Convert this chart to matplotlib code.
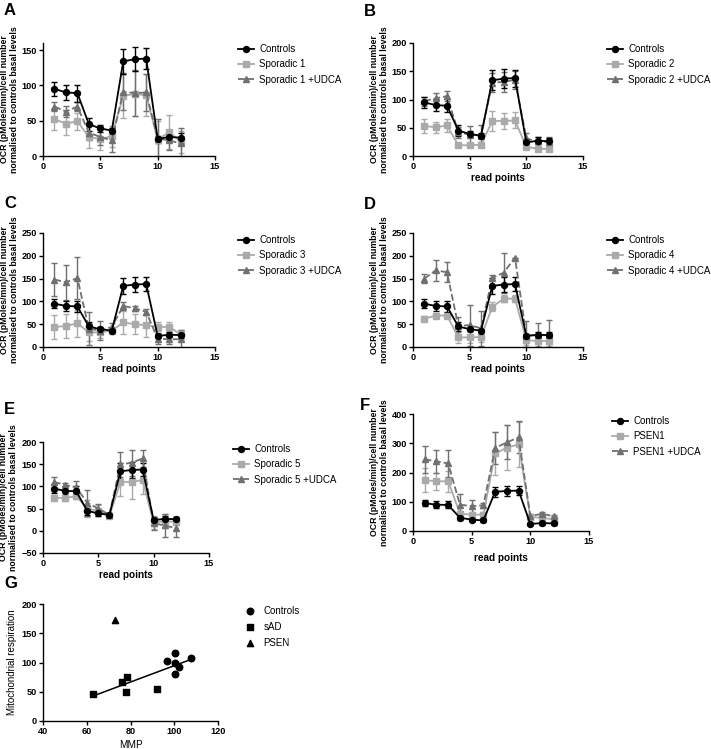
import numpy as np
import matplotlib
matplotlib.use("Agg")
import matplotlib.pyplot as plt
from matplotlib.lines import Line2D

plt.rcParams['font.family'] = ['Liberation Sans', 'DejaVu Sans']

W, H = 711, 749

read_points = np.arange(1, 13)

controls = [95, 90, 89, 45, 39, 36, 134, 137, 138, 24, 27, 26]
controls_err = [10, 11, 12, 9, 5, 4, 18, 17, 15, 5, 6, 6]

sporadic1 = [52, 46, 49, 27, 24, 28, 85, 88, 86, 23, 34, 20]
sporadic1_err = [15, 16, 12, 15, 15, 15, 31, 32, 30, 26, 24, 16]
sporadic1_udca = [70, 63, 70, 33, 27, 22, 91, 89, 90, 25, 22, 18]
sporadic1_udca_err = [6, 8, 6, 10, 12, 17, 26, 33, 26, 28, 14, 22]

sporadic2 = [53, 51, 54, 19, 19, 20, 62, 62, 63, 16, 13, 12]
sporadic2_err = [12, 10, 12, 3, 3, 4, 17, 14, 14, 3, 3, 3]
sporadic2_udca = [97, 102, 106, 42, 38, 36, 130, 131, 135, 31, 26, 25]
sporadic2_udca_err = [8, 10, 9, 10, 15, 19, 17, 18, 16, 10, 8, 8]

sporadic3 = [44, 46, 52, 32, 32, 36, 54, 50, 48, 44, 44, 28]
sporadic3_err = [26, 26, 30, 18, 12, 8, 26, 22, 25, 10, 10, 10]
sporadic3_udca = [148, 142, 151, 40, 36, 44, 90, 85, 77, 18, 17, 17]
sporadic3_udca_err = [37, 38, 46, 36, 20, 8, 8, 5, 6, 12, 10, 20]

sporadic4 = [62, 69, 69, 21, 21, 22, 88, 106, 106, 15, 13, 13]
sporadic4_err = [5, 4, 5, 12, 12, 12, 10, 8, 8, 10, 10, 10]
sporadic4_udca = [150, 168, 164, 46, 48, 41, 152, 163, 196, 25, 26, 27]
sporadic4_udca_err = [10, 23, 22, 20, 45, 38, 6, 44, 0, 32, 26, 32]

sporadic5 = [74, 74, 78, 50, 45, 33, 110, 110, 114, 18, 22, 20]
sporadic5_err = [5, 8, 6, 20, 12, 5, 32, 38, 30, 15, 15, 5]
sporadic5_udca = [110, 103, 98, 63, 50, 36, 150, 153, 163, 17, 12, 6]
sporadic5_udca_err = [12, 5, 15, 30, 10, 4, 28, 30, 20, 15, 25, 20]

psen1 = [174, 170, 170, 59, 56, 56, 265, 285, 296, 48, 45, 40]
psen1_err = [40, 30, 35, 10, 8, 8, 72, 77, 76, 6, 6, 6]
psen1_udca = [245, 238, 231, 90, 85, 88, 284, 303, 320, 51, 59, 50]
psen1_udca_err = [47, 40, 45, 35, 22, 8, 55, 58, 55, 6, 5, 5]

# panel G
mmp_controls = [100.2, 96.8, 100.2, 102.2, 100.2, 107.5]
resp_controls = [117, 103.4, 100, 93, 80, 107.4]
mmp_sad = [62.9, 76.1, 78.6, 78.1, 92.1]
resp_sad = [47, 67, 75.4, 49, 54.3]
mmp_psen = [73]
resp_psen = [172]

YLABEL = "OCR (pMoles/min)/cell number\nnormalised to controls basal levels"
LIGHT = "#aaaaaa"
DARK = "#707070"
FS = 6.6


def px_axes(l, r, t, b):
    return [l / W, 1 - b / H, (r - l) / W, (b - t) / H]


def style(ax):
    for s in ["top", "right"]:
        ax.spines[s].set_visible(False)
    for s in ["left", "bottom"]:
        ax.spines[s].set_linewidth(1.0)
    ax.tick_params(direction="out", length=3, width=1, pad=1.5, labelsize=FS)
    for lab in ax.get_xticklabels() + ax.get_yticklabels():
        lab.set_fontweight("bold")


def ocr_panel(fig, box, patient, patient_err, udca, udca_err, name,
              ylim, yticks, leg_xy, xlabel=True):
    ax = fig.add_axes(px_axes(*box))
    kw = dict(lw=1.3, capsize=2.2, elinewidth=1, capthick=1)
    ax.errorbar(read_points, patient, yerr=patient_err, color=LIGHT,
                marker="s", ms=4.3, **kw)
    ax.errorbar(read_points, udca, yerr=udca_err, color=DARK, ls="--",
                marker="^", ms=3.8, **kw)
    ax.errorbar(read_points, controls, yerr=controls_err, color="black",
                marker="o", ms=4.3, **kw)
    ax.set_xlim(0, 15)
    ax.set_xticks([0, 5, 10, 15])
    ax.set_ylim(*ylim)
    ax.set_yticks(yticks)
    style(ax)
    ax.set_ylabel(YLABEL, fontsize=6.3, fontweight="bold", linespacing=1.15,
                  labelpad=2)
    if xlabel:
        ax.set_xlabel("read points", fontsize=FS + 0.6, fontweight="bold",
                      labelpad=1)
    handles = [
        Line2D([], [], color="black", lw=1.3, marker="o", ms=4.3),
        Line2D([], [], color=LIGHT, lw=1.3, marker="s", ms=4.3),
        Line2D([], [], color=DARK, lw=1.3, ls="--", marker="^", ms=3.8),
    ]
    labels = ["Controls", name, name + " +UDCA"]
    fig.legend(handles, labels,
               loc="upper left", bbox_to_anchor=(leg_xy[0] / W, 1 - leg_xy[1] / H),
               frameon=False, fontsize=FS + 0.4, handlelength=1.6,
               handletextpad=0.6, labelspacing=0.55, borderpad=0,
               borderaxespad=0)
    return ax


fig = plt.figure(figsize=(W / 100, H / 100), dpi=100)

ocr_panel(fig, (43, 215, 43, 156), sporadic1, sporadic1_err, sporadic1_udca,
          sporadic1_udca_err, "Sporadic 1", (0, 160), [0, 50, 100, 150],
          (238, 44), xlabel=False)
ocr_panel(fig, (413, 583, 43, 156), sporadic2, sporadic2_err, sporadic2_udca,
          sporadic2_udca_err, "Sporadic 2", (0, 200), [0, 50, 100, 150, 200],
          (607, 44))
ocr_panel(fig, (43, 215, 233, 347), sporadic3, sporadic3_err, sporadic3_udca,
          sporadic3_udca_err, "Sporadic 3", (0, 250), [0, 50, 100, 150, 200, 250],
          (238, 235))
ocr_panel(fig, (413, 583, 233, 347), sporadic4, sporadic4_err, sporadic4_udca,
          sporadic4_udca_err, "Sporadic 4", (0, 250), [0, 50, 100, 150, 200, 250],
          (607, 235))
ocr_panel(fig, (43, 209, 442, 553), sporadic5, sporadic5_err, sporadic5_udca,
          sporadic5_udca_err, "Sporadic 5", (-50, 200), [-50, 0, 50, 100, 150, 200],
          (233, 444))
axf = ocr_panel(fig, (413, 589, 414, 531), psen1, psen1_err, psen1_udca,
                psen1_udca_err, "PSEN1", (0, 400), [0, 100, 200, 300, 400],
                (612, 416))
axf.set_xlabel("read points", fontsize=FS + 0.6, fontweight="bold", labelpad=5)

# panel G
axg = fig.add_axes(px_axes(43, 218, 604, 721))
axg.scatter(mmp_controls, resp_controls, marker="o", s=22, color="black",
            label="Controls", zorder=3)
axg.scatter(mmp_sad, resp_sad, marker="s", s=22, color="black", label="sAD",
            zorder=3)
axg.scatter(mmp_psen, resp_psen, marker="^", s=20, color="black", label="PSEN",
            zorder=3)
fit_x = np.array(mmp_controls + mmp_sad)
fit_y = np.array(resp_controls + resp_sad)
slope, icpt = np.polyfit(fit_x, fit_y, 1)
xx = np.array([fit_x.min(), fit_x.max()])
axg.plot(xx, slope * xx + icpt, color="black", lw=1.1)
axg.set_xlim(40, 120)
axg.set_xticks([40, 60, 80, 100, 120])
axg.set_ylim(0, 200)
axg.set_yticks([0, 50, 100, 150, 200])
style(axg)
axg.set_ylabel("Mitochondrial respiration", fontsize=FS + 0.4, labelpad=3)
axg.set_xlabel("MMP", fontsize=FS + 0.6, labelpad=3)
h, l = axg.get_legend_handles_labels()
fig.legend(h, l, loc="upper left", bbox_to_anchor=(244 / W, 1 - 606 / H),
           frameon=False, fontsize=FS + 0.4, handlelength=1.2,
           handletextpad=0.8, labelspacing=0.6, borderpad=0, borderaxespad=0)

for letter, x, y in [("A", 4, 3), ("B", 364, 4), ("C", 4, 196), ("D", 364, 197),
                     ("E", 4, 402), ("F", 360, 398), ("G", 4, 576)]:
    fig.text(x / W, 1 - y / H, letter, fontsize=12, fontweight="bold",
             va="top", ha="left")

fig.savefig("out.png", dpi=100)
